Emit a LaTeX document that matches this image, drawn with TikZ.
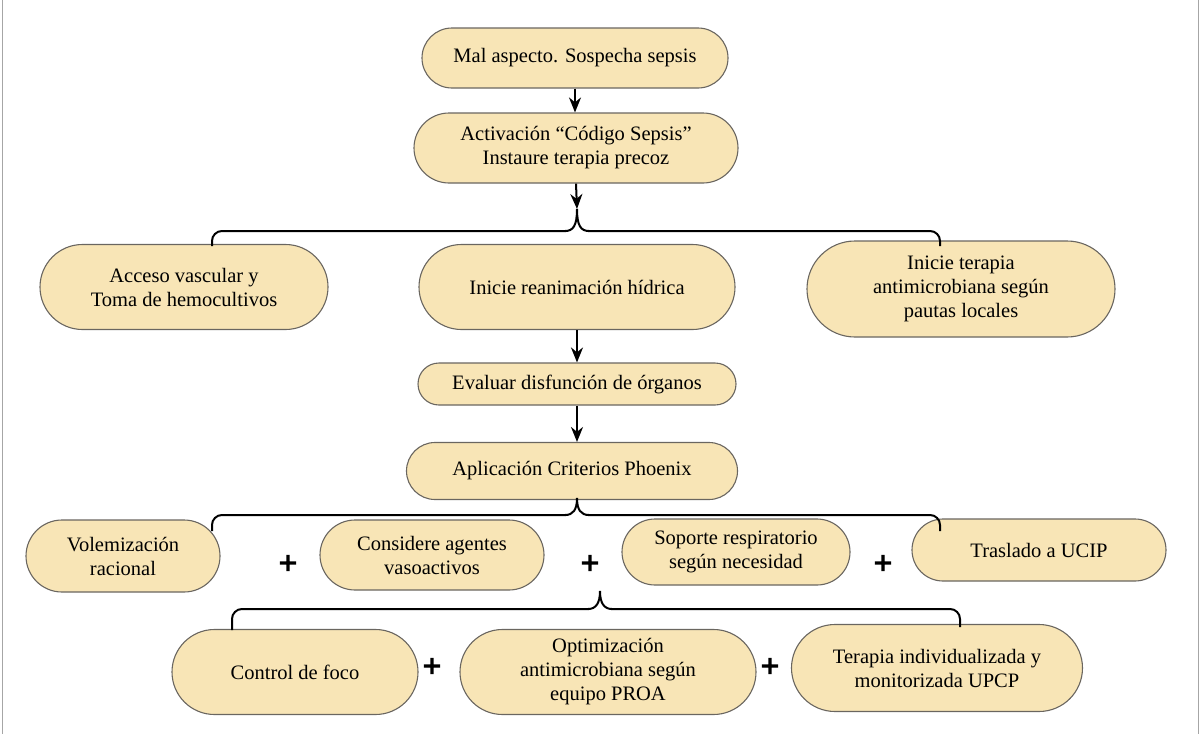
\documentclass[tikz,border=0pt]{standalone}
\usepackage{fontspec}
\setmainfont{Liberation Serif}
\newfontfamily\plusfont[FakeBold=5]{DejaVu Sans}
\usetikzlibrary{shapes.misc,arrows.meta}
\definecolor{boxfill}{HTML}{F8E5B6}
\definecolor{boxline}{HTML}{6A6660}
\begin{document}
\begin{tikzpicture}[x=1pt,y=-1pt,
  box/.style={rounded rectangle, draw=boxline, line width=1.1pt, fill=boxfill, align=center, font=\fontsize{20.5}{24}\selectfont, inner sep=2pt},
  arr/.style={-{Stealth[length=15pt,width=12pt]}, line width=2pt},
  br/.style={line width=2pt},
  brc/.style={line width=2pt, rounded corners=10pt},
  plus/.style={font=\plusfont\fontsize{24}{24}\selectfont}]
\useasboundingbox (0,0) rectangle (1200,734);
\draw[gray!70, line width=1pt] (2,0) -- (2,734);
\draw[gray!70, line width=1pt] (1198,0) -- (1198,734);

\node[box, minimum width=310, minimum height=60] (a) at (575,58) {Mal aspecto. Sospecha sepsis};
\node[box, minimum width=328, minimum height=70] (b) at (576,148) {Activación “Código Sepsis”\\Instaure terapia precoz};
\node[box, minimum width=292, minimum height=85] (c1) at (184,287) {Acceso vascular y\\Toma de hemocultivos};
\node[box, minimum width=320, minimum height=85] (c2) at (577,287) {Inicie reanimación hídrica};
\node[box, minimum width=312, minimum height=96] (c3) at (961,289) {Inicie terapia\\antimicrobiana según\\pautas locales};
\node[box, minimum width=322, minimum height=42] (d) at (577,384) {Evaluar disfunción de órganos};
\node[box, minimum width=335, minimum height=57] (e) at (572,471) {Aplicación Criterios Phoenix};
\node[box, minimum width=198, minimum height=72] (f1) at (123,556) {Volemización\\racional};
\node[box, minimum width=228, minimum height=70] (f2) at (432,555) {Considere agentes\\vasoactivos};
\node[box, minimum width=232, minimum height=66] (f3) at (736,552) {Soporte respiratorio\\según necesidad};
\node[box, minimum width=258, minimum height=62] (f4) at (1039,550) {Traslado a UCIP};
\node[box, minimum width=250, minimum height=85] (g1) at (295,672) {Control de foco};
\node[box, minimum width=300, minimum height=85] (g2) at (608,672) {Optimización\\antimicrobiana según\\equipo PROA};
\node[box, minimum width=295, minimum height=87] (g3) at (937,668) {Terapia individualizada y\\monitorizada UPCP};

\node[plus] at (288,563) {+};
\node[plus] at (590,563) {+};
\node[plus] at (883,563) {+};
\node[plus] at (432,666) {+};
\node[plus] at (770,666) {+};

% braces
\coordinate (t1) at (577,209);
\draw[brc] (212,246) -- (212,231) -- (566,231);
\draw[brc] (940,246) -- (940,231) -- (588,231);
\draw[br] (565,231) .. controls (573,231) and (577,226) .. (t1)
  .. controls (577,226) and (581,231) .. (589,231);
\coordinate (t2) at (577,498);
\draw[brc] (212,531) -- (212,515) -- (566,515);
\draw[brc] (940,531) -- (940,515) -- (588,515);
\draw[br] (565,515) .. controls (573,515) and (577,510) .. (t2)
  .. controls (577,510) and (581,515) .. (589,515);
\coordinate (t3) at (600,591);
\draw[brc] (232,630) -- (232,609) -- (589,609);
\draw[brc] (960,627) -- (960,609) -- (611,609);
\draw[br] (588,609) .. controls (596,609) and (600,603) .. (t3)
  .. controls (600,603) and (604,609) .. (612,609);

\draw[arr] (a.south) -- (a.south |- b.north);
\draw[arr] (b.south) -- (t1);
\draw[arr] (c2.south) -- (c2.south |- d.north);
\draw[arr] (d.south) -- (d.south |- e.north);
\end{tikzpicture}
\end{document}
